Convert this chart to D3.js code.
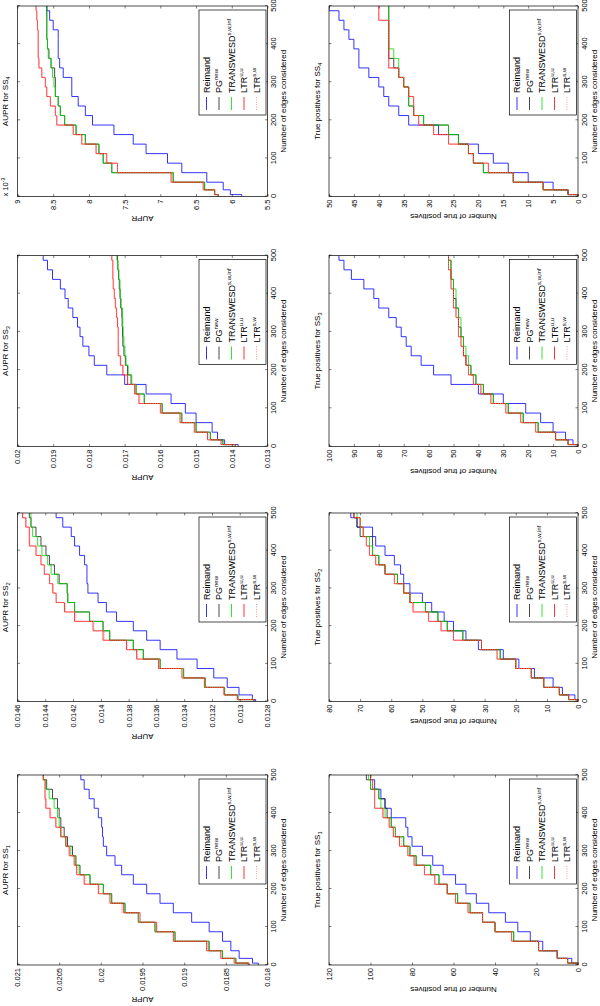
<!DOCTYPE html>
<html><head><meta charset="utf-8">
<script src="https://cdn.jsdelivr.net/npm/d3@7"></script>
<style>
body{margin:0;background:#fff}
svg{display:block}
text{font-family:"Liberation Sans",Arial,Helvetica,sans-serif;fill:#000}
</style>
</head><body>
<svg id="c" width="600" height="1006"></svg>
<script>
// ---------- data ----------
const edges = [0,10,25,50,75,100,125,150,175,200,225,250,275,300,325,350,375,400,425,450,475,500];
const edgeTicks = [0,100,200,300,400,500];
const seriesNames = ["Reimand","PG","TRANSWESD","LTR","LTR"];
const seriesSup = ["","new","s,w,inf","u,u","s,w"];

// AUPR SS1
const aupr1Reimand = [0.01811,0.01818,0.01834,0.01844,0.01854,0.01870,0.01891,0.01913,0.01929,0.01945,0.01961,0.01975,0.01983,0.01993,0.01997,0.01998,0.01999,0.02003,0.02008,0.02014,0.02020,0.02024];
const aupr1PG      = [0.01823,0.01838,0.01854,0.01870,0.01911,0.01935,0.01955,0.01971,0.01987,0.01997,0.02013,0.02025,0.02030,0.02034,0.02040,0.02044,0.02048,0.02050,0.02052,0.02058,0.02065,0.02069];
const aupr1TW      = [0.01823,0.01838,0.01854,0.01871,0.01911,0.01935,0.01955,0.01971,0.01987,0.01997,0.02013,0.02026,0.02030,0.02036,0.02042,0.02048,0.02050,0.02052,0.02056,0.02062,0.02066,0.02069];
const aupr1LTRuu   = [0.01822,0.01840,0.01856,0.01873,0.01913,0.01933,0.01953,0.01973,0.01989,0.02003,0.02020,0.02029,0.02032,0.02038,0.02042,0.02048,0.02054,0.02061,0.02066,0.02067,0.02067,0.02069];
const aupr1LTRsw   = [0.01822,0.01840,0.01856,0.01872,0.01912,0.01934,0.01955,0.01975,0.01990,0.02002,0.02018,0.02028,0.02031,0.02037,0.02041,0.02047,0.02053,0.02060,0.02065,0.02066,0.02067,0.02069];
// AUPR SS2
const aupr2Reimand = [0.012885,0.012909,0.013005,0.01309,0.013187,0.013307,0.013452,0.013573,0.01367,0.013766,0.013887,0.01396,0.01402,0.014093,0.0141,0.0141,0.014117,0.014153,0.014189,0.014213,0.014274,0.014322];
const aupr2PG      = [0.012897,0.013013,0.013109,0.013254,0.013404,0.013573,0.013694,0.013766,0.013936,0.013984,0.014081,0.014189,0.014238,0.014242,0.0143,0.014334,0.01437,0.014395,0.014431,0.014467,0.014503,0.014515];
const aupr2TW      = [0.012897,0.013013,0.013109,0.013254,0.013404,0.013573,0.013694,0.013766,0.013936,0.013984,0.014081,0.014189,0.014238,0.014242,0.01431,0.014358,0.014383,0.014424,0.014455,0.014491,0.014503,0.014503];
const aupr2LTRuu   = [0.012897,0.013018,0.013114,0.013247,0.013416,0.013585,0.013742,0.013815,0.013984,0.014056,0.014189,0.014262,0.014322,0.014346,0.01437,0.014407,0.014431,0.014467,0.014515,0.014515,0.01454,0.014564];
const aupr2LTRsw   = [0.012897,0.013016,0.013112,0.013250,0.013410,0.013580,0.013735,0.013810,0.013975,0.014050,0.014180,0.014255,0.014318,0.014342,0.014368,0.014405,0.014428,0.014462,0.014510,0.014512,0.014535,0.014560];
// AUPR SS3
const aupr3Reimand = [0.01382,0.01420,0.01440,0.01455,0.01500,0.01530,0.01570,0.01640,0.01700,0.01750,0.01785,0.01800,0.01817,0.01825,0.01832,0.01845,0.01858,0.01867,0.01880,0.01902,0.01916,0.01928];
const aupr3PG      = [0.01390,0.01425,0.01460,0.01500,0.01540,0.01595,0.01645,0.01668,0.01682,0.01692,0.01698,0.01702,0.01705,0.01706,0.01707,0.01708,0.01711,0.01713,0.01715,0.01717,0.01719,0.01720];
const aupr3TW      = [0.01390,0.01425,0.01460,0.01500,0.01540,0.01595,0.01645,0.01668,0.01680,0.01690,0.01696,0.01699,0.01702,0.01704,0.01705,0.01706,0.01710,0.01712,0.01713,0.01716,0.01719,0.01722];
const aupr3LTRuu   = [0.01390,0.01430,0.01468,0.01505,0.01545,0.01600,0.01660,0.01672,0.01692,0.01705,0.01712,0.01718,0.01718,0.01718,0.01720,0.01723,0.01726,0.01729,0.01732,0.01733,0.01733,0.01736];
const aupr3LTRsw   = [0.01390,0.01430,0.01466,0.01503,0.01543,0.01598,0.01657,0.01670,0.01690,0.01703,0.01710,0.01716,0.01717,0.01717,0.01719,0.01722,0.01725,0.01728,0.01731,0.01732,0.01733,0.01735];
// AUPR SS4 (x 10^-3)
const aupr4Reimand = [5.86,6.02,6.12,6.35,6.70,6.90,7.20,7.38,7.65,7.95,8.05,8.15,8.24,8.24,8.36,8.41,8.43,8.43,8.43,8.50,8.55,8.59];
const aupr4PG      = [6.19,6.24,6.38,6.82,7.68,7.80,7.86,8.05,8.18,8.34,8.40,8.43,8.47,8.47,8.48,8.53,8.56,8.58,8.59,8.59,8.59,8.59];
const aupr4TW      = [6.19,6.24,6.38,6.82,7.68,7.80,7.86,8.05,8.18,8.34,8.40,8.43,8.47,8.49,8.51,8.53,8.57,8.58,8.59,8.59,8.59,8.59];
const aupr4LTRuu   = [6.19,6.24,6.40,6.85,7.60,7.75,7.90,8.10,8.22,8.45,8.47,8.54,8.59,8.61,8.66,8.70,8.71,8.71,8.71,8.72,8.73,8.74];
const aupr4LTRsw   = [6.19,6.24,6.40,6.84,7.60,7.76,7.90,8.10,8.22,8.45,8.47,8.54,8.59,8.61,8.66,8.70,8.71,8.71,8.71,8.72,8.73,8.74];
// True positives SS1
const tp1Reimand = [0,3,10,17,23,29,35,43,49,54,59,65,70,75,80,82,83,90,93,95,98,100];
const tp1PG      = [0,5,10,19,31,40,46,52,58,63,67,71,78,81,84,88,90,92,93,96,100,102];
const tp1TW      = [0,5,10,19,31,40,46,52,58,63,67,71,78,81,84,88,90,93,95,96,100,101];
const tp1LTRuu   = [0,5,10,19,32,40,46,53,59,63,69,74,79,82,86,89,91,94,98,98,99,100];
const tp1LTRsw   = [0,5,10,19,32,40,46,53,59,63,69,74,79,82,85,88,91,94,98,98,99,100];
// True positives SS2
const tp2Reimand = [0,1,5,8,14,19,24,32,36,40,43,47,50,54,56,57,59,62,65,66,71,73];
const tp2PG      = [0,3,6,11,15,20,25,31,37,42,45,49,54,56,58,62,64,66,66,70,71,72];
const tp2TW      = [0,3,6,11,15,20,25,31,37,42,45,49,54,56,58,62,64,66,67,69,70,71];
const tp2LTRuu   = [0,3,6,11,15,20,26,31,40,44,48,53,54,56,59,62,65,67,68,69,70,72];
const tp2LTRsw   = [0,3,6,11,15,20,26,31,40,44,48,53,54,56,59,62,65,67,68,69,70,72];
// True positives SS3
const tp3Reimand = [0,2,5,10,15,21,30,40,51,58,63,67,69,71,73,76,80,82,86,91,94,96];
const tp3PG      = [0,4,9,16,22,28,34,38,41,43,45,46,46,47,48,48,49,50,50,51,51,52];
const tp3TW      = [0,4,9,16,22,28,34,38,41,43,44,45,46,47,47,48,49,49,50,51,51,52];
const tp3LTRuu   = [0,4,9,17,23,29,35,39,42,44,45,46,47,48,48,49,50,50,51,51,52,52];
const tp3LTRsw   = [0,4,9,17,23,29,35,39,42,44,45,46,47,48,48,49,50,50,51,51,52,52];
// True positives SS4
const tp4Reimand = [0,2,5,10,14,17,20,24,28,34,36,38,39,40,42,44,44,45,46,47,48,50];
const tp4PG      = [0,2,7,13,19,21,22,24,26,31,33,34,34,35,36,37,38,38,38,38,38,38];
const tp4TW      = [0,2,7,13,19,21,22,24,26,31,33,34,34,35,36,36,37,38,38,38,38,38];
const tp4LTRuu   = [0,2,7,13,18,21,22,26,29,32,33,33,34,35,36,38,38,38,38,38,40,40];
const tp4LTRsw   = [0,2,7,13,18,21,22,26,29,32,33,33,34,35,36,38,38,38,38,38,40,40];

// tick values
const aupr1Ticks = [0.018,0.0185,0.019,0.0195,0.02,0.0205,0.021];
const aupr2Ticks = [0.0128,0.013,0.0132,0.0134,0.0136,0.0138,0.014,0.0142,0.0144,0.0146];
const aupr3Ticks = [0.013,0.014,0.015,0.016,0.017,0.018,0.019,0.02];
const aupr4Ticks = [5.5,6,6.5,7,7.5,8,8.5,9];
const tp1Ticks = [0,20,40,60,80,100,120];
const tp2Ticks = [0,10,20,30,40,50,60,70,80];
const tp3Ticks = [0,10,20,30,40,50,60,70,80,90,100];
const tp4Ticks = [0,5,10,15,20,25,30,35,40,45,50];

// ---------- drawing ----------
const colors = ["#0000ff","#1a1a1a","#00dd00","#ff0000","#ff7f7f"];
const dashes = [null,null,null,null,"1,1.4"];
const FS = 7.5;

const svg = d3.select("#c");
// figure is drawn landscape (1006 x 600) then rotated 90deg counter-clockwise
const root = svg.append("g").attr("transform","translate(0,1006) rotate(-90)");

const colX = [[41,231],[304.5,493],[559.5,750.5],[809.5,1000]];
const rowY = {aupr:[17.5,267.5], tp:[329,578]};

let clipN = 0;
function drawPanel(cfg){
  const [x0,x1] = colX[cfg.col];
  const [yT,yB] = rowY[cfg.row];
  const xs = d3.scaleLinear().domain([0,500]).range([x0,x1]);
  const ys = d3.scaleLinear().domain([cfg.ticks[0],cfg.ticks[cfg.ticks.length-1]]).range([yB,yT]);
  const g = root.append("g");
  const id = "clip"+(clipN++);
  g.append("clipPath").attr("id",id).append("rect")
    .attr("x",x0).attr("y",yT).attr("width",x1-x0).attr("height",yB-yT);

  const line = d3.line().x((d,i)=>xs(edges[i])).y(d=>ys(d)).curve(d3.curveStep);
  cfg.data.forEach((arr,k)=>{
    g.append("path").attr("d",line(arr)).attr("clip-path",`url(#${id})`)
      .attr("fill","none").attr("stroke",colors[k]).attr("stroke-width",0.8)
      .attr("stroke-dasharray",dashes[k]);
  });

  const tick = 2.5;
  const ax = (axis, tr) => {
    const a = g.append("g").attr("transform",tr).call(axis);
    a.select(".domain").remove();
    a.selectAll("line").attr("stroke","#000").attr("stroke-width",0.5);
    a.selectAll("text").attr("font-size",FS).attr("font-family",'"Liberation Sans",Arial,sans-serif').attr("fill","#000");
    return a;
  };
  ax(d3.axisBottom(xs).tickValues(edgeTicks).tickSize(-tick).tickPadding(3.5).tickFormat(d3.format("d")), `translate(0,${yB})`);
  ax(d3.axisTop(xs).tickValues(edgeTicks).tickSize(-tick).tickFormat(""), `translate(0,${yT})`);
  const left = ax(d3.axisLeft(ys).tickValues(cfg.ticks).tickSize(-tick).tickPadding(3).tickFormat(d=>String(d)), `translate(${x0},0)`);
  ax(d3.axisRight(ys).tickValues(cfg.ticks).tickSize(-tick).tickFormat(""), `translate(${x1},0)`);

  g.append("rect").attr("x",x0).attr("y",yT).attr("width",x1-x0).attr("height",yB-yT)
    .attr("fill","none").attr("stroke","#000").attr("stroke-width",0.7);

  let maxW = 0;
  left.selectAll("text").each(function(){ maxW = Math.max(maxW,this.getBBox().width); });

  const FL = 8;
  const t = g.append("text").attr("x",(x0+x1)/2).attr("y",yT-9.5).attr("text-anchor","middle").attr("font-size",FL);
  t.append("tspan").text(cfg.title);
  t.append("tspan").attr("font-size",FL*0.7).attr("dy",2).text(cfg.ss);
  g.append("text").attr("x",(x0+x1)/2).attr("y",yB+18.5).attr("text-anchor","middle").attr("font-size",FL)
    .text("Number of edges considered");
  const yl = x0 - 3 - maxW - 6.5;
  g.append("text").attr("transform",`translate(${yl},${(yT+yB)/2}) rotate(-90)`)
    .attr("text-anchor","middle").attr("font-size",FL).text(cfg.ylabel);
  if(cfg.exp){
    const e = g.append("text").attr("x",x0).attr("y",yT-9.5).attr("font-size",FS);
    e.append("tspan").text("x 10");
    e.append("tspan").attr("font-size",FS*0.7).attr("dy",-3).text(cfg.exp);
  }
  const lw = 105, lh = 67;
  const lx = x1 - 4 - lw, ly = yB - 1.5 - lh;
  const lg = g.append("g");
  lg.append("rect").attr("x",lx).attr("y",ly).attr("width",lw).attr("height",lh)
    .attr("fill","#fff").attr("stroke","#000").attr("stroke-width",0.7);
  seriesNames.forEach((nm,k)=>{
    const cy = ly + 7.5 + k*12.5;
    lg.append("line").attr("x1",lx+5).attr("x2",lx+18).attr("y1",cy).attr("y2",cy)
      .attr("stroke",colors[k]).attr("stroke-width",0.8).attr("stroke-dasharray",dashes[k]);
    const tx = lg.append("text").attr("x",lx+22).attr("y",cy+3).attr("font-size",9);
    tx.append("tspan").text(nm);
    if(seriesSup[k]) tx.append("tspan").attr("font-size",6).attr("dy",-3.8).text(seriesSup[k]);
  });
}

const panels = [
  {row:"aupr",col:0,title:"AUPR for SS",ss:"1",ylabel:"AUPR",ticks:aupr1Ticks,data:[aupr1Reimand,aupr1PG,aupr1TW,aupr1LTRuu,aupr1LTRsw]},
  {row:"aupr",col:1,title:"AUPR for SS",ss:"2",ylabel:"AUPR",ticks:aupr2Ticks,data:[aupr2Reimand,aupr2PG,aupr2TW,aupr2LTRuu,aupr2LTRsw]},
  {row:"aupr",col:2,title:"AUPR for SS",ss:"3",ylabel:"AUPR",ticks:aupr3Ticks,data:[aupr3Reimand,aupr3PG,aupr3TW,aupr3LTRuu,aupr3LTRsw]},
  {row:"aupr",col:3,title:"AUPR for SS",ss:"4",ylabel:"AUPR",ticks:aupr4Ticks,exp:"-3",data:[aupr4Reimand,aupr4PG,aupr4TW,aupr4LTRuu,aupr4LTRsw]},
  {row:"tp",col:0,title:"True positives for SS",ss:"1",ylabel:"Number of true positives",ticks:tp1Ticks,data:[tp1Reimand,tp1PG,tp1TW,tp1LTRuu,tp1LTRsw]},
  {row:"tp",col:1,title:"True positives for SS",ss:"2",ylabel:"Number of true positives",ticks:tp2Ticks,data:[tp2Reimand,tp2PG,tp2TW,tp2LTRuu,tp2LTRsw]},
  {row:"tp",col:2,title:"True positives for SS",ss:"3",ylabel:"Number of true positives",ticks:tp3Ticks,data:[tp3Reimand,tp3PG,tp3TW,tp3LTRuu,tp3LTRsw]},
  {row:"tp",col:3,title:"True positives for SS",ss:"4",ylabel:"Number of true positives",ticks:tp4Ticks,data:[tp4Reimand,tp4PG,tp4TW,tp4LTRuu,tp4LTRsw]}
];
panels.forEach(drawPanel);
</script>
</body></html>
